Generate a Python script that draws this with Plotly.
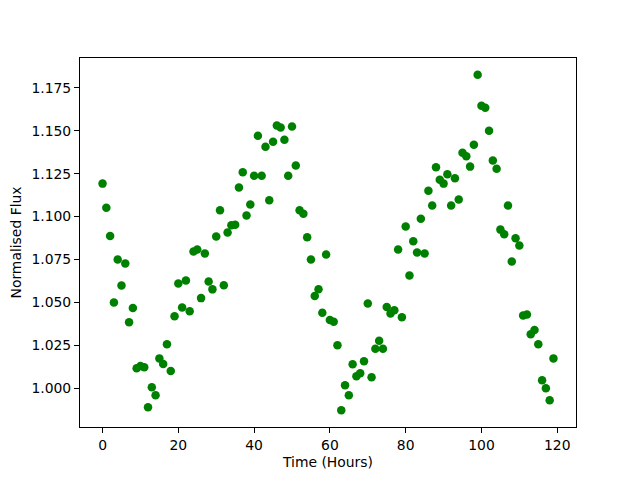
import plotly.graph_objects as go

time_hours = list(range(120))
flux = [
    1.1192, 1.1052, 1.0887, 1.0500, 1.0750, 1.0599, 1.0727, 1.0384, 1.0467, 1.0116,
    1.0130, 1.0122, 0.9890, 1.0006, 0.9959, 1.0174, 1.0141, 1.0256, 1.0101, 1.0420,
    1.0610, 1.0471, 1.0628, 1.0448, 1.0797, 1.0808, 1.0525, 1.0785, 1.0622, 1.0576,
    1.0884, 1.1037, 1.0600, 1.0907, 1.0950, 1.0953, 1.1169, 1.1258, 1.1006, 1.1070,
    1.1238, 1.1471, 1.1238, 1.1407, 1.1095, 1.1436, 1.1531, 1.1519, 1.1448, 1.1238,
    1.1525, 1.1297, 1.1037, 1.1017, 1.0880, 1.0750, 1.0538, 1.0577, 1.0440, 1.0779,
    1.0397, 1.0387, 1.0250, 0.9872, 1.0017, 0.9959, 1.0140, 1.0070, 1.0087, 1.0157,
    1.0494, 1.0064, 1.0230, 1.0277, 1.0230, 1.0473, 1.0436, 1.0455, 1.0808, 1.0413,
    1.0942, 1.0657, 1.0856, 1.0791, 1.0988, 1.0785, 1.1151, 1.1064, 1.1287, 1.1215,
    1.1192, 1.1246, 1.1064, 1.1223, 1.1099, 1.1372, 1.1352, 1.1291, 1.1419, 1.1826,
    1.1645, 1.1634, 1.1500, 1.1327, 1.1279, 1.0924, 1.0897, 1.1064, 1.0738, 1.0874,
    1.0831, 1.0424, 1.0430, 1.0314, 1.0339, 1.0256, 1.0047, 1.0000, 0.9930, 1.0174,
]
x_ticks = [0, 20, 40, 60, 80, 100, 120]
y_ticks = [1.000, 1.025, 1.050, 1.075, 1.100, 1.125, 1.150, 1.175]

fig = go.Figure()
fig.add_trace(go.Scatter(
    x=time_hours, y=flux, mode="markers",
    marker=dict(color="#008000", size=8.5, line=dict(width=0)),
))

xmin, xmax = min(time_hours), max(time_hours)
ymin, ymax = min(flux), max(flux)
xm = (xmax - xmin) * 0.05
ym = (ymax - ymin) * 0.05

axis_common = dict(
    showline=True, linecolor="black", linewidth=1, mirror=True,
    ticks="outside", ticklen=5, tickwidth=1, tickcolor="black",
    showgrid=False, zeroline=False, automargin=False,
    tickfont=dict(family="DejaVu Sans", size=13.9, color="black"),
)

fig.update_layout(
    width=640, height=480,
    margin=dict(l=72, r=72, t=50, b=61),
    paper_bgcolor="white", plot_bgcolor="white",
    showlegend=False,
    font=dict(family="DejaVu Sans", size=13.9, color="black"),
    xaxis=dict(
        range=[xmin - xm, xmax + xm], tickvals=x_ticks,
        title=dict(text="Time (Hours)", standoff=5,
                   font=dict(family="DejaVu Sans", size=13.9)),
        **axis_common,
    ),
    yaxis=dict(
        range=[ymin - ym, ymax + ym], tickvals=y_ticks, tickformat=".3f",
        title=dict(text="Normalised Flux", standoff=9,
                   font=dict(family="DejaVu Sans", size=13.9)),
        **axis_common,
    ),
)

fig.write_html("out.html")
